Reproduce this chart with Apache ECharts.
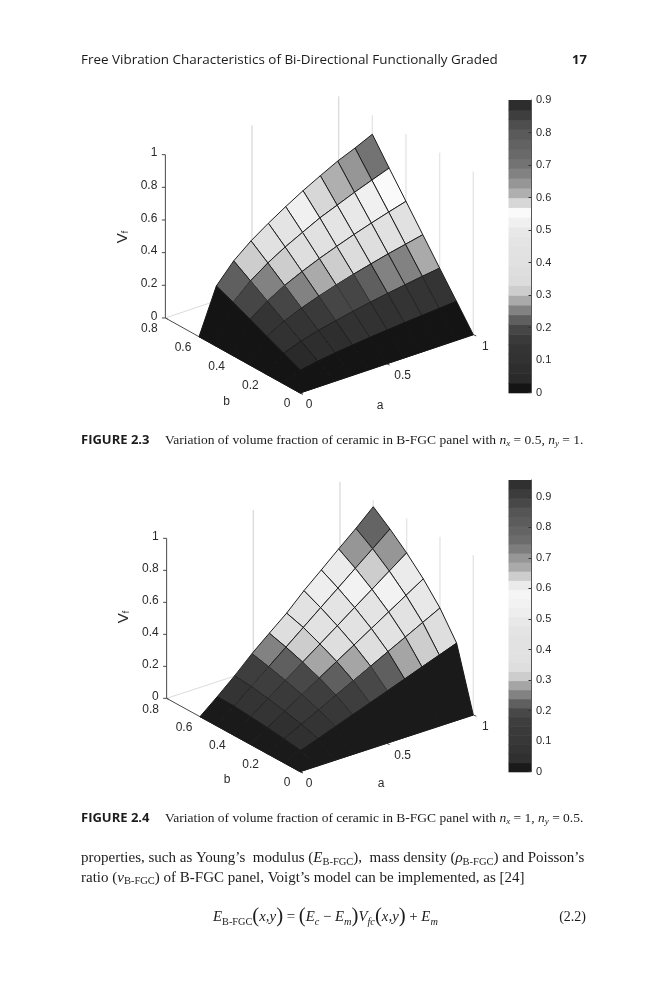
<!DOCTYPE html>
<html><head><meta charset="utf-8">
<style>html,body{margin:0;padding:0;background:#fff}#c{width:666px;height:1000px}</style>
<script src="https://cdn.jsdelivr.net/npm/echarts@6/dist/echarts.min.js"></script>
</head><body><div id="c"></div>
<script>
// ---------- data ----------
const aValues = [0,0.1,0.2,0.3,0.4,0.5,0.6,0.7,0.8,0.9,1];
const bValues = [0,0.1,0.2,0.3,0.4,0.5,0.6];
const zTicks = [0,0.2,0.4,0.6,0.8,1];
const bTicks = [0,0.2,0.4,0.6,0.8];
const aTicks = [0,0.5,1];
const wallA = [0.5,1];
const wallB = [0.6,0.4,0.2,0];
// Vf, rows by b, columns by a
const surfaceFig3 = [
 [0,0,0,0,0,0,0,0,0,0,0],
 [0,.046,.066,.081,.093,.104,.114,.123,.131,.139,.147],
 [0,.093,.131,.161,.185,.207,.227,.245,.262,.278,.293],
 [0,.139,.197,.241,.278,.311,.341,.368,.394,.417,.440],
 [0,.186,.262,.322,.371,.415,.454,.491,.525,.557,.587],
 [0,.232,.328,.402,.464,.518,.571,.613,.656,.695,.733],
 [0,.275,.393,.480,.552,.618,.680,.736,.790,.834,.883]
];
const surfaceFig4 = [
 [0,0,0,0,0,0,0,0,0,0,0],
 [0,.039,.078,.118,.157,.196,.235,.274,.314,.353,.392],
 [0,.055,.111,.166,.222,.277,.332,.388,.443,.499,.554],
 [0,.068,.136,.204,.272,.340,.407,.475,.543,.611,.679],
 [0,.078,.157,.235,.314,.392,.470,.549,.627,.706,.784],
 [0,.088,.175,.263,.350,.438,.526,.613,.701,.788,.876],
 [0,.090,.185,.288,.380,.470,.575,.669,.765,.858,.958]
];
// colormap bands (gray levels), bottom to top of each colour bar
const graysFig3 = [20,42,46,50,52,58,70,95,130,170,205,220,222,225,226,228,232,240,250,215,175,150,130,115,105,98,90,78,62,45];
const graysFig4 = [26,48,52,56,58,62,72,95,130,165,205,222,225,226,226,228,232,238,242,245,235,205,170,150,125,108,100,92,85,72,60,48];
const barMaxFig3 = 0.9, barMaxFig4 = 0.955;
const barTicks = [0,0.1,0.2,0.3,0.4,0.5,0.6,0.7,0.8,0.9];

// ---------- view of each 3-D box ----------
const viewFig3 = {ox:300,oy:393,ax:173.3,ay:-58.3,bx:-168.3,by:-93.8,z:163.3,title:[123,237],bT:[226.7,402],aT:[380,406],surface:surfaceFig3,grays:graysFig3,max:barMaxFig3};
const viewFig4 = {ox:300,oy:771.7,ax:173.3,ay:-56.7,bx:-166.7,by:-91.7,z:160,title:[124,617],bT:[227,780],aT:[381,784],surface:surfaceFig4,grays:graysFig4,max:barMaxFig4};
const project=(v,a,b,z)=>[v.ox+a*v.ax+b*v.bx, v.oy+a*v.ay+b*v.by-z*v.z];
const grayCss=g=>`rgb(${g},${g},${g})`;
const AXIS='#4a4a4a', SANS='"Liberation Sans",Arial,sans-serif', SERIF='"Liberation Serif",serif', HUM='"Open Sans",sans-serif';

function surfaceSeries(v){
  const cells=[];
  for(let j=bValues.length-2;j>=0;j--) for(let i=aValues.length-2;i>=0;i--) cells.push([i,j]);
  return {type:'custom',coordinateSystem:'cartesian2d',xAxisIndex:0,yAxisIndex:0,clip:false,silent:true,z:3,data:cells,
    renderItem(p,api){
      const i=api.value(0), j=api.value(1), S=v.surface;
      const pts=[[i,j],[i+1,j],[i+1,j+1],[i,j+1]].map(([m,n])=>api.coord(project(v,aValues[m],bValues[n],S[n][m])));
      const idx=Math.min(v.grays.length-1,Math.floor(S[j][i]/v.max*v.grays.length));
      const g=v.grays[idx];
      const edge=idx===0?grayCss(g):(g<75?grayCss(g-16):'#1e1e1e');
      return {type:'polygon',shape:{points:pts},style:{fill:grayCss(g),stroke:edge,lineWidth:1}};
    }};
}
function frameSeries(v){
  const segs=[];
  // faint back walls
  wallA.forEach(a=>segs.push([project(v,a,0.8,0),project(v,a,0.8,1),'#dcdcdc',1.4]));
  wallB.forEach(b=>segs.push([project(v,1,b,0),project(v,1,b,1),'#e6e6e6',1.4]));
  segs.push([project(v,0,0.8,0),project(v,1,0.8,0),'#dcdcdc',1]);
  segs.push([project(v,1,0.8,0),project(v,1,0,0),'#eeeeee',1]);
  return {type:'custom',coordinateSystem:'cartesian2d',xAxisIndex:0,yAxisIndex:0,clip:false,silent:true,z:1,data:segs.map((s,k)=>[k]),
    renderItem(p,api){const s=segs[api.value(0)];const A=api.coord(s[0]),B=api.coord(s[1]);
      return {type:'line',shape:{x1:A[0],y1:A[1],x2:B[0],y2:B[1]},style:{stroke:s[2],lineWidth:s[3]}};}};
}
function axisSeries(v){
  const segs=[];
  segs.push([project(v,0,0.8,0),project(v,0,0.8,1)]);
  segs.push([project(v,0,0,0),project(v,0,0.8,0)]);
  segs.push([project(v,0,0,0),project(v,1,0,0)]);
  const tick=(P,dx,dy)=>segs.push([P,[P[0]+dx,P[1]+dy]]);
  zTicks.forEach(z=>tick(project(v,0,0.8,z),-3.5,0));
  bTicks.forEach(b=>tick(project(v,0,b,0),2.5,1.2));
  aTicks.forEach(a=>tick(project(v,a,0,0),3,1.2));
  return {type:'custom',coordinateSystem:'cartesian2d',xAxisIndex:0,yAxisIndex:0,clip:false,silent:true,z:2,data:segs.map((s,k)=>[k]),
    renderItem(p,api){const s=segs[api.value(0)];const A=api.coord(s[0]),B=api.coord(s[1]);
      return {type:'line',shape:{x1:A[0],y1:A[1],x2:B[0],y2:B[1]},style:{stroke:AXIS,lineWidth:1}};}};
}
function labelSeries(v){
  const L=[];
  zTicks.forEach(z=>{const P=project(v,0,0.8,z);L.push([String(z),P[0]-8,P[1]-1.5,'right']);});
  bTicks.forEach(b=>{const P=project(v,0,b,0);L.push([String(b),P[0]-(b===0?13:16),P[1]+11,'center']);});
  aTicks.forEach(a=>{const P=project(v,a,0,0);L.push([String(a),P[0]+(a===0?9:a===1?12:16),P[1]+12,'center']);});
  L.push(['b',v.bT[0],v.bT[1],'center']);
  L.push(['a',v.aT[0],v.aT[1],'center']);
  return {type:'custom',coordinateSystem:'cartesian2d',xAxisIndex:0,yAxisIndex:0,clip:false,silent:true,z:4,data:L.map((s,k)=>[k]),
    renderItem(p,api){const s=L[api.value(0)];const A=api.coord([s[1],s[2]]);
      return {type:'text',x:A[0],y:A[1],style:{text:s[0],fontFamily:SANS,fontSize:12,fill:'#2a2a2a',align:s[3],verticalAlign:'middle'}};}};
}
function barSeries(v,axis){
  const n=v.grays.length,st=v.max/n;
  return {type:'custom',coordinateSystem:'cartesian2d',xAxisIndex:axis,yAxisIndex:axis,silent:true,z:1,
    data:v.grays.map((g,k)=>[0,k*st,1,(k+1)*st,g]),
    renderItem(p,api){const A=api.coord([api.value(0),api.value(1)]),B=api.coord([api.value(2),api.value(3)]);
      return {type:'rect',shape:{x:A[0],y:B[1],width:B[0]-A[0],height:A[1]-B[1]+0.6},style:{fill:grayCss(api.value(4))}};}};
}
function barAxis(grid,max){
  return {type:'value',gridIndex:grid,position:'right',min:0,max:max,interval:0.1,z:5,
    axisLine:{show:true,onZero:false,lineStyle:{color:'#555',width:1}},axisTick:{show:true,inside:true,length:2.5,lineStyle:{color:'#333'}},splitLine:{show:false},
    axisLabel:{margin:5,fontFamily:SANS,fontSize:11,color:'#2a2a2a',showMaxLabel:max===0.9,
      formatter:x=>barTicks.includes(+x.toFixed(3))?String(+x.toFixed(1)):''}};
}
const hiddenX=g=>({type:'value',gridIndex:g,min:0,max:1,show:false});
const T=(x,y,text,extra,rotation)=>({type:'text',x,y,rotation:rotation||0,silent:true,z:10,style:Object.assign({text,fill:'#1c1c1c',verticalAlign:'middle',align:'left'},extra)});
const subRich=(fam,size)=>({
  t:{fontFamily:fam,fontSize:size,fill:'#1c1c1c'},
  i:{fontFamily:fam,fontStyle:'italic',fontSize:size,fill:'#1c1c1c'},
  s:{fontFamily:fam,fontStyle:'italic',fontSize:size-4.5,fill:'#1c1c1c',verticalAlign:'bottom',padding:[7,0,0,0]},
  r:{fontFamily:fam,fontSize:size-4.5,fill:'#1c1c1c',verticalAlign:'bottom',padding:[7,0,0,0]},
  p:{fontFamily:fam,fontSize:size+6,fill:'#1c1c1c'}
});
const capRich=subRich(SERIF,13.5), bodyRich=subRich(SERIF,15), eqRich=subRich(SERIF,14.8);
const vfRich={v:{fontFamily:SANS,fontSize:15,fill:'#2a2a2a'},f:{fontFamily:SANS,fontSize:9,fill:'#2a2a2a',verticalAlign:'bottom',padding:[5,0,0,0]}};

const graphics=[
 T(81,60,'Free Vibration Characteristics of Bi-Directional Functionally Graded',{fontFamily:HUM,fontSize:13.45}),
 T(572,60,'17',{fontFamily:HUM,fontWeight:'bold',fontSize:13}),
 T(81,440.5,'FIGURE 2.3',{fontFamily:HUM,fontWeight:'bold',fontSize:13}),
 T(165,440.5,'{t|Variation of volume fraction of ceramic in B-FGC panel with }{i|n}{s|x}{t| = 0.5, }{i|n}{s|y}{t| = 1.}',{rich:capRich}),
 T(81,818.5,'FIGURE 2.4',{fontFamily:HUM,fontWeight:'bold',fontSize:13}),
 T(165,818.5,'{t|Variation of volume fraction of ceramic in B-FGC panel with }{i|n}{s|x}{t| = 1, }{i|n}{s|y}{t| = 0.5.}',{rich:capRich}),
 T(81,858.5,'{t|properties, such as Young’s  modulus (}{i|E}{r|B-FGC}{t|),  mass density (}{i|ρ}{r|B-FGC}{t|) and Poisson’s}',{rich:bodyRich}),
 T(81,878,'{t|ratio (}{i|ν}{r|B-FGC}{t|) of B-FGC panel, Voigt’s model can be implemented, as [24]}',{rich:bodyRich}),
 T(213,917,'{i|E}{r|B-FGC}{p|(}{i|x,y}{p|)}{t| = }{p|(}{i|E}{s|c}{t| − }{i|E}{s|m}{p|)}{i|V}{s|fc}{p|(}{i|x,y}{p|)}{t| + }{i|E}{s|m}',{rich:eqRich}),
 T(586,917,'(2.2)',{fontFamily:SERIF,fontSize:14,align:'right'}),
 T(viewFig3.title[0],viewFig3.title[1],'{v|V}{f|f}',{align:'center',rich:vfRich},Math.PI/2),
 T(viewFig4.title[0],viewFig4.title[1],'{v|V}{f|f}',{align:'center',rich:vfRich},Math.PI/2)
];

const chart=echarts.init(document.getElementById('c'),null,{renderer:'canvas'});
chart.setOption({
  animation:false,backgroundColor:'#fff',
  grid:[{left:0,top:0,width:666,height:1000,containLabel:false},
        {left:508.5,top:100,width:22.5,height:292.7},
        {left:508.5,top:480,width:22.5,height:291.7}],
  xAxis:[{type:'value',gridIndex:0,min:0,max:666,show:false},hiddenX(1),hiddenX(2)],
  yAxis:[{type:'value',gridIndex:0,min:0,max:1000,inverse:true,show:false},barAxis(1,barMaxFig3),barAxis(2,barMaxFig4)],
  series:[frameSeries(viewFig3),axisSeries(viewFig3),surfaceSeries(viewFig3),labelSeries(viewFig3),barSeries(viewFig3,1),
          frameSeries(viewFig4),axisSeries(viewFig4),surfaceSeries(viewFig4),labelSeries(viewFig4),barSeries(viewFig4,2)],
  graphic:{elements:graphics}
});
</script></body></html>
